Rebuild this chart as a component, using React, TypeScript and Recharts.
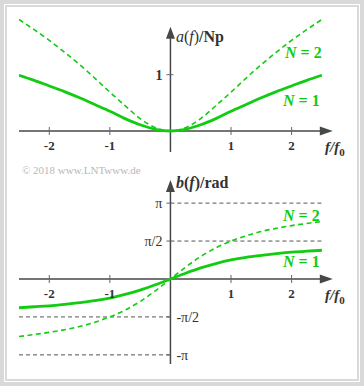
import { LineChart, Line, XAxis, YAxis, ReferenceLine, ReferenceDot } from 'recharts';

// f / f0 sample points
const fVals = [-2.5, -2.25, -2, -1.75, -1.5, -1.25, -1, -0.75, -0.5, -0.25, 0, 0.25, 0.5, 0.75, 1, 1.25, 1.5, 1.75, 2, 2.25, 2.5];

// attenuation a(f) in Np
const aN1 = [0.99, 0.9, 0.8, 0.7, 0.59, 0.47, 0.35, 0.22, 0.11, 0.03, 0, 0.03, 0.11, 0.22, 0.35, 0.47, 0.59, 0.7, 0.8, 0.9, 0.99];
const aN2 = [1.98, 1.8, 1.61, 1.4, 1.18, 0.94, 0.69, 0.45, 0.22, 0.06, 0, 0.06, 0.22, 0.45, 0.69, 0.94, 1.18, 1.4, 1.61, 1.8, 1.98];

// phase b(f) in rad
const bN1 = [-1.19, -1.15, -1.11, -1.05, -0.98, -0.9, -0.79, -0.64, -0.46, -0.24, 0, 0.24, 0.46, 0.64, 0.79, 0.9, 0.98, 1.05, 1.11, 1.15, 1.19];
const bN2 = [-2.38, -2.3, -2.21, -2.1, -1.97, -1.79, -1.57, -1.29, -0.93, -0.49, 0, 0.49, 0.93, 1.29, 1.57, 1.79, 1.97, 2.1, 2.21, 2.3, 2.38];

const xTicks = [-2, -1, 1, 2];
const PI = Math.PI;
const bTicks = [
  { v: PI, label: 'π', side: 'left' },
  { v: PI / 2, label: 'π/2', side: 'left' },
  { v: -PI / 2, label: '-π/2', side: 'right' },
  { v: -PI, label: '-π', side: 'right' },
];

const topData = fVals.map((f, i) => ({ f, n1: aN1[i], n2: aN2[i] }));
const botData = fVals.map((f, i) => ({ f, n1: bN1[i], n2: bN2[i] }));

const GREEN = '#11cc11';
const AXIS = '#474747';
const TXT = '#333';
const SERIF = '"Liberation Serif", "DejaVu Serif", serif';
const X_DOMAIN: [number, number] = [-2.5, 2.7];
const TOP_DOMAIN: [number, number] = [-0.373, 2.06];
const BOT_DOMAIN: [number, number] = [-3.768, 4.513];

const ArrowRight = (p: any) => (
  <path d={`M${p.cx},${p.cy} L${p.cx - 13},${p.cy - 4.5} L${p.cx - 13},${p.cy + 4.5} Z`} fill={AXIS} />
);
const ArrowUp = (p: any) => (
  <path d={`M${p.cx},${p.cy} L${p.cx - 4.5},${p.cy + 12} L${p.cx + 4.5},${p.cy + 12} Z`} fill={AXIS} />
);

const xTick = (label: string) => (p: any) => (
  <g>
    <line x1={p.cx} x2={p.cx} y1={p.cy - 4} y2={p.cy + 4} stroke="#666" strokeWidth={1} />
    <text x={p.cx} y={p.cy + 19} textAnchor="middle" fontFamily={SERIF} fontSize={13} fontWeight="bold" fill={TXT}>
      {label}
    </text>
  </g>
);

const yTick = (label: string, side: string, bold: boolean) => (p: any) => (
  <g>
    <line x1={p.cx - 4} x2={p.cx + (bold ? 3 : 0)} y1={p.cy} y2={p.cy} stroke="#666" strokeWidth={1} />
    <text
      x={side === 'left' ? p.cx - 8 : p.cx + 6}
      y={p.cy + 5}
      textAnchor={side === 'left' ? 'end' : 'start'}
      fontFamily={SERIF}
      fontSize={14}
      fontWeight={bold ? 'bold' : 'normal'}
      fill={TXT}
    >
      {label}
    </text>
  </g>
);

function Panel({ data, yDomain, margin, children }: any) {
  return (
    <div style={{ position: 'absolute', left: 0, top: 0 }}>
      <LineChart width={364} height={386} data={data} margin={margin}>
        <XAxis type="number" dataKey="f" domain={X_DOMAIN} allowDataOverflow hide />
        <YAxis type="number" domain={yDomain} allowDataOverflow hide />
        {children}
        <Line dataKey="n2" type="monotone" stroke={GREEN} strokeWidth={1.6} strokeDasharray="5 3.5" dot={false} isAnimationActive={false} />
        <Line dataKey="n1" type="monotone" stroke={GREEN} strokeWidth={2.8} dot={false} isAnimationActive={false} />
      </LineChart>
    </div>
  );
}

export default function App() {
  return (
    <div
      style={{
        position: 'absolute',
        left: 0,
        top: 0,
        width: 364,
        height: 386,
        boxSizing: 'border-box',
        border: '4px solid #d9d9d9',
        background: '#fff',
      }}
    >
      <div style={{ position: 'absolute', inset: 1, border: '2px solid #d9d9d9' }} />
      <div style={{ position: 'absolute', left: -4, top: -4 }}>
        {/* upper panel: attenuation */}
        <Panel data={topData} yDomain={TOP_DOMAIN} margin={{ top: 15, left: 19, right: 30, bottom: 234 }}>
          <ReferenceLine segment={[{ x: -2.5, y: 0 }, { x: 2.47, y: 0 }]} stroke={AXIS} strokeWidth={1.5} ifOverflow="visible" />
          <ReferenceLine segment={[{ x: 0, y: TOP_DOMAIN[0] }, { x: 0, y: 1.65 }]} stroke={AXIS} strokeWidth={1.5} ifOverflow="visible" />
          <ReferenceDot x={2.68} y={0} shape={ArrowRight} ifOverflow="visible" />
          <ReferenceDot x={0} y={1.85} shape={ArrowUp} ifOverflow="visible" />
          {xTicks.map((t) => (
            <ReferenceDot key={t} x={t} y={0} shape={xTick(String(t))} ifOverflow="visible" />
          ))}
          <ReferenceDot x={0} y={1} shape={yTick('1', 'left', true)} ifOverflow="visible" />
        </Panel>

        {/* lower panel: phase */}
        <Panel data={botData} yDomain={BOT_DOMAIN} margin={{ top: 170, left: 19, right: 30, bottom: 16 }}>
          <ReferenceLine segment={[{ x: 0, y: PI }, { x: 2.5, y: PI }]} stroke="#555" strokeDasharray="4 3" />
          <ReferenceLine segment={[{ x: 0, y: PI / 2 }, { x: 2.5, y: PI / 2 }]} stroke="#555" strokeDasharray="4 3" />
          <ReferenceLine segment={[{ x: -2.5, y: -PI / 2 }, { x: 0, y: -PI / 2 }]} stroke="#555" strokeDasharray="4 3" />
          <ReferenceLine segment={[{ x: -2.5, y: -PI }, { x: 0, y: -PI }]} stroke="#555" strokeDasharray="4 3" />
          <ReferenceLine segment={[{ x: -2.5, y: 0 }, { x: 2.47, y: 0 }]} stroke={AXIS} strokeWidth={1.5} ifOverflow="visible" />
          <ReferenceLine segment={[{ x: 0, y: -3.52 }, { x: 0, y: 3.68 }]} stroke={AXIS} strokeWidth={1.5} ifOverflow="visible" />
          <ReferenceDot x={2.68} y={0} shape={ArrowRight} ifOverflow="visible" />
          <ReferenceDot x={0} y={4.1} shape={ArrowUp} ifOverflow="visible" />
          {xTicks.map((t) => (
            <ReferenceDot key={t} x={t} y={0} shape={xTick(String(t))} ifOverflow="visible" />
          ))}
          {bTicks.map((t) => (
            <ReferenceDot key={t.label} x={0} y={t.v} shape={yTick(t.label, t.side, false)} ifOverflow="visible" />
          ))}
        </Panel>

        {/* titles and annotations */}
        <svg width={364} height={386} style={{ position: 'absolute', left: 0, top: 0, pointerEvents: 'none' }}>
          <g fontFamily={SERIF} fill={TXT}>
            <text x={176} y={42} fontSize={16}>
              <tspan fontStyle="italic">a</tspan>(<tspan fontStyle="italic">f</tspan>)<tspan fontWeight="bold">/Np</tspan>
            </text>
            <text x={176} y={188} fontSize={16} fontWeight="bold">
              <tspan fontStyle="italic">b</tspan>(<tspan fontStyle="italic">f</tspan>)/rad
            </text>
            <text x={325} y={152} fontSize={15} fontWeight="bold" fontStyle="italic">
              f/f<tspan fontSize={11} dy={4} fontStyle="normal">0</tspan>
            </text>
            <text x={325} y={300} fontSize={15} fontWeight="bold" fontStyle="italic">
              f/f<tspan fontSize={11} dy={4} fontStyle="normal">0</tspan>
            </text>
            <text x={22} y={174} fontSize={11} fill="#b8b8b8">© 2018 www.LNTwww.de</text>
          </g>
          <g fontFamily={SERIF} fill={GREEN} fontSize={16} fontWeight="bold">
            <text x={285} y={58}><tspan fontStyle="italic">N</tspan> = 2</text>
            <text x={283} y={106}><tspan fontStyle="italic">N</tspan> = 1</text>
            <text x={283} y={221}><tspan fontStyle="italic">N</tspan> = 2</text>
            <text x={283} y={267}><tspan fontStyle="italic">N</tspan> = 1</text>
          </g>
        </svg>
      </div>
    </div>
  );
}
